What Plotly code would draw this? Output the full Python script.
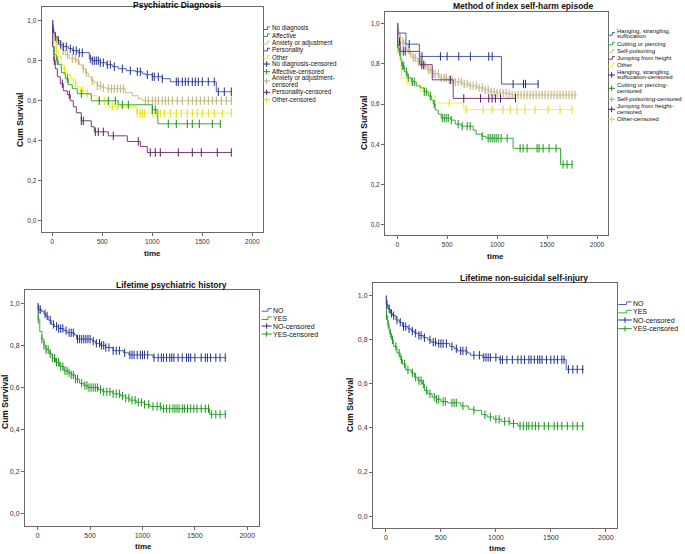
import bisect
import plotly.graph_objects as go

W, H = 685, 554
FONT = "Liberation Sans"

# ---------------- DATA ----------------
# Panel 1: Psychiatric Diagnosis
p1_nodiag_t = [0, 3, 15, 30, 55, 80, 110, 160, 200, 260, 370, 400, 480, 540, 600, 660, 740, 830, 900, 930, 1000, 1100, 1180, 1640]
p1_nodiag_s = [1.0, 0.96, 0.94, 0.92, 0.90, 0.88, 0.87, 0.86, 0.85, 0.84, 0.81, 0.80, 0.79, 0.78, 0.77, 0.76, 0.75, 0.745, 0.735, 0.73, 0.72, 0.71, 0.695, 0.645]
p1_nodiag_end = 1790
p1_nodiag_c = [8, 30, 60, 85, 110, 140, 180, 210, 240, 270, 300, 380, 400, 420, 440, 460, 480, 510, 550, 580, 620, 700, 780, 850, 880, 950, 1000, 1020, 1060, 1100, 1240, 1260, 1300, 1330, 1360, 1400, 1430, 1460, 1500, 1560, 1620, 1660, 1720, 1790]

p1_aff_t = [0, 5, 20, 40, 60, 90, 130, 160, 200, 250, 390, 660, 1000, 1055]
p1_aff_s = [1.0, 0.87, 0.83, 0.80, 0.78, 0.74, 0.71, 0.68, 0.66, 0.635, 0.60, 0.58, 0.555, 0.485]
p1_aff_end = 1680
p1_aff_c = [50, 150, 290, 470, 560, 630, 700, 760, 1000, 1030, 1160, 1240, 1350, 1400, 1470, 1600, 1680]

p1_anx_t = [0, 5, 20, 40, 70, 100, 130, 170, 240, 270, 300, 330, 360, 390, 420, 450, 500, 540, 730, 800, 860, 900]
p1_anx_s = [1.0, 0.95, 0.92, 0.89, 0.87, 0.85, 0.83, 0.81, 0.80, 0.78, 0.76, 0.74, 0.72, 0.70, 0.69, 0.675, 0.665, 0.66, 0.64, 0.625, 0.61, 0.60]
p1_anx_end = 1790
p1_anx_c = [40, 110, 150, 200, 230, 260, 310, 340, 400, 450, 480, 510, 560, 590, 620, 650, 680, 710, 930, 960, 1000, 1030, 1060, 1100, 1130, 1160, 1200, 1250, 1300, 1360, 1400, 1440, 1480, 1520, 1560, 1600, 1640, 1690, 1740, 1790]

p1_pers_t = [0, 3, 15, 30, 50, 80, 110, 150, 180, 210, 240, 290, 390, 420, 560, 750, 880, 950]
p1_pers_s = [1.0, 0.87, 0.80, 0.76, 0.72, 0.685, 0.65, 0.63, 0.60, 0.57, 0.54, 0.50, 0.47, 0.445, 0.425, 0.397, 0.372, 0.342]
p1_pers_end = 1790
p1_pers_c = [20, 100, 170, 290, 310, 430, 460, 510, 610, 860, 980, 1030, 1080, 1260, 1400, 1490, 1650, 1790]

p1_oth_t = [0, 5, 20, 40, 60, 90, 120, 150, 180, 210, 250, 280, 330, 380, 450, 560, 840]
p1_oth_s = [1.0, 0.93, 0.89, 0.85, 0.82, 0.78, 0.75, 0.73, 0.71, 0.69, 0.67, 0.65, 0.635, 0.625, 0.60, 0.572, 0.538]
p1_oth_end = 1790
p1_oth_c = [40, 120, 230, 300, 350, 470, 520, 600, 650, 850, 880, 900, 920, 1000, 1040, 1080, 1120, 1180, 1240, 1290, 1350, 1400, 1450, 1500, 1560, 1620, 1700, 1790]

# Panel 2: Method of index self-harm episode
p2_hang_t = [0, 5, 87, 221, 1043]
p2_hang_s = [1.0, 0.952, 0.897, 0.836, 0.699]
p2_hang_end = 1418
p2_hang_c = [120, 248, 432, 499, 616, 732, 916, 950, 1160, 1264, 1284, 1410]

p2_cut_t = [0, 3, 15, 30, 45, 70, 100, 140, 190, 230, 270, 310, 340, 360, 380, 410, 440, 540, 580, 640, 760, 790, 850, 890, 1160, 1635]
p2_cut_s = [1.0, 0.90, 0.86, 0.82, 0.79, 0.76, 0.73, 0.71, 0.69, 0.68, 0.66, 0.64, 0.62, 0.60, 0.57, 0.55, 0.53, 0.52, 0.50, 0.49, 0.47, 0.45, 0.44, 0.43, 0.38, 0.30]
p2_cut_end = 1750
p2_cut_c = [3, 25, 50, 65, 90, 110, 150, 170, 270, 290, 330, 370, 450, 470, 490, 510, 540, 610, 650, 700, 730, 850, 910, 930, 950, 970, 990, 1010, 1040, 1100, 1230, 1260, 1300, 1400, 1420, 1460, 1520, 1590, 1660, 1700, 1750]

p2_pois_t = [0, 3, 20, 50, 90, 120, 150, 200, 250, 300, 350, 420, 500, 580, 650, 720, 800, 870, 930, 1000, 1100, 1150]
p2_pois_s = [1.0, 0.96, 0.93, 0.90, 0.87, 0.85, 0.83, 0.81, 0.79, 0.77, 0.75, 0.73, 0.72, 0.71, 0.70, 0.69, 0.68, 0.67, 0.66, 0.655, 0.65, 0.645]
p2_pois_end = 1800
p2_pois_c = [10, 30, 60, 80, 110, 130, 160, 180, 210, 230, 260, 280, 310, 330, 360, 380, 410, 440, 470, 490, 520, 550, 580, 610, 640, 670, 700, 730, 760, 790, 820, 850, 880, 910, 940, 970, 1000, 1030, 1060, 1090, 1120, 1150, 1180, 1210, 1240, 1270, 1300, 1330, 1360, 1390, 1420, 1450, 1480, 1510, 1540, 1570, 1600, 1630, 1660, 1690, 1720, 1750, 1780]

p2_jump_t = [0, 5, 30, 225, 350, 560]
p2_jump_s = [1.0, 0.91, 0.861, 0.795, 0.72, 0.628]
p2_jump_end = 1184
p2_jump_c = [22, 60, 80, 245, 265, 532, 666, 833, 916, 950, 983, 1034, 1184]

p2_oth_t = [0, 3, 40, 90, 230, 330, 380, 665]
p2_oth_s = [1.0, 0.87, 0.73, 0.70, 0.665, 0.64, 0.605, 0.572]
p2_oth_end = 1750
p2_oth_c = [5, 520, 690, 860, 950, 1060, 1130, 1200, 1280, 1380, 1510, 1630, 1750]

# Panel 3: Lifetime psychiatric history
p3_no_t = [0, 5, 40, 60, 80, 100, 130, 160, 200, 250, 280, 350, 370, 520, 550, 600, 650, 720, 820, 870, 1100]
p3_no_s = [1.0, 0.97, 0.96, 0.95, 0.94, 0.92, 0.90, 0.89, 0.88, 0.87, 0.86, 0.85, 0.83, 0.82, 0.81, 0.80, 0.79, 0.775, 0.765, 0.755, 0.742]
p3_no_end = 1800
p3_no_c = [10, 25, 70, 90, 120, 150, 180, 200, 220, 240, 270, 300, 320, 340, 380, 400, 420, 440, 460, 480, 500, 530, 560, 590, 610, 630, 650, 680, 720, 750, 780, 830, 880, 900, 920, 950, 980, 1000, 1020, 1050, 1110, 1150, 1180, 1200, 1230, 1260, 1280, 1300, 1340, 1380, 1420, 1440, 1460, 1500, 1560, 1600, 1620, 1650, 1700, 1740, 1790]

p3_yes_t = [0, 2, 5, 20, 40, 60, 80, 110, 140, 170, 210, 250, 290, 320, 360, 400, 440, 480, 580, 620, 720, 790, 840, 880, 940, 1020, 1070, 1180, 1640]
p3_yes_s = [1.0, 0.97, 0.924, 0.866, 0.83, 0.80, 0.78, 0.76, 0.74, 0.72, 0.70, 0.68, 0.67, 0.66, 0.64, 0.62, 0.61, 0.60, 0.59, 0.58, 0.57, 0.56, 0.55, 0.54, 0.53, 0.52, 0.51, 0.50, 0.473]
p3_yes_end = 1800
p3_yes_c = [5, 40, 60, 80, 100, 120, 140, 160, 180, 200, 220, 240, 260, 280, 300, 320, 340, 360, 380, 420, 450, 470, 490, 510, 530, 550, 570, 600, 630, 660, 690, 720, 750, 780, 810, 840, 870, 900, 930, 960, 990, 1020, 1060, 1100, 1140, 1170, 1200, 1230, 1260, 1290, 1310, 1330, 1350, 1380, 1400, 1430, 1460, 1490, 1520, 1560, 1600, 1630, 1660, 1700, 1740, 1790]

# Panel 4: Lifetime non-suicidal self-injury
p4_no_t = [0, 5, 20, 40, 60, 90, 120, 150, 200, 230, 260, 300, 340, 380, 410, 460, 580, 620, 650, 740, 770, 880, 1030, 1640]
p4_no_s = [1.0, 0.96, 0.94, 0.92, 0.91, 0.89, 0.88, 0.86, 0.85, 0.84, 0.83, 0.82, 0.81, 0.80, 0.79, 0.783, 0.77, 0.76, 0.75, 0.74, 0.73, 0.72, 0.71, 0.666]
p4_no_end = 1800
p4_no_c = [10, 30, 50, 70, 100, 130, 160, 180, 210, 240, 270, 300, 320, 350, 400, 430, 450, 480, 500, 520, 550, 600, 640, 680, 700, 730, 800, 850, 890, 910, 930, 950, 1000, 1040, 1060, 1100, 1150, 1200, 1230, 1260, 1300, 1320, 1350, 1380, 1400, 1420, 1460, 1500, 1530, 1560, 1600, 1620, 1660, 1700, 1740, 1790]

p4_yes_t = [0, 1, 5, 15, 30, 50, 70, 100, 130, 150, 180, 230, 260, 290, 330, 350, 380, 420, 460, 500, 560, 680, 750, 800, 870, 920, 980, 1050, 1130, 1200]
p4_yes_s = [1.0, 0.96, 0.91, 0.87, 0.83, 0.80, 0.77, 0.74, 0.71, 0.69, 0.663, 0.65, 0.63, 0.615, 0.60, 0.57, 0.555, 0.54, 0.53, 0.52, 0.514, 0.50, 0.485, 0.48, 0.46, 0.45, 0.44, 0.43, 0.42, 0.409]
p4_yes_end = 1800
p4_yes_c = [5, 20, 40, 60, 90, 120, 140, 170, 200, 240, 270, 300, 320, 340, 370, 400, 440, 460, 480, 520, 540, 600, 620, 640, 700, 800, 900, 950, 1000, 1030, 1080, 1120, 1160, 1220, 1250, 1280, 1300, 1330, 1360, 1390, 1440, 1480, 1530, 1560, 1600, 1650, 1700, 1740, 1790]

x_tick_vals = [0, 500, 1000, 1500, 2000]
x_tick_text = ["0", "500", "1000", "1500", "2000"]
y_tick_vals = [0.0, 0.2, 0.4, 0.6, 0.8, 1.0]
y_tick_text = ["0,0", "0,2", "0,4", "0,6", "0,8", "1,0"]

titles = ["Psychiatric Diagnosis", "Method of index self-harm episode",
          "Lifetime psychiatric history", "Lifetime non-suicidal self-injury"]

# ---------------- STYLE ----------------
BLUE = ("#4b60b6", "#1f2e8c")
GREEN = ("#37ad37", "#1c931c")
TAN = ("#cdc28f", "#b9ab72")
PURPLE = ("#7b3a7e", "#5c1d60")
YELLOW = ("#f2f22a", "#e0e000")

def P(px, py):
    return px / W, 1 - py / H

# panel geometry in pixels: frame left,right,top,bottom ; axis ranges
panels = [
    dict(fx=(41.7, 263.0), fy=(7.0, 232.0), xr=(-106, 2107), yr=(-0.055, 1.068)),
    dict(fx=(385.0, 608.0), fy=(11.7, 235.0), xr=(-123, 2110), yr=(-0.050, 1.058)),
    dict(fx=(25.0, 259.0), fy=(290.0, 526.0), xr=(-121, 2112), yr=(-0.057, 1.063)),
    dict(fx=(373.0, 617.0), fy=(283.0, 528.0), xr=(-118, 2102), yr=(-0.054, 1.058)),
]

fig = go.Figure()

def step_val(ts, ss, t):
    i = bisect.bisect_right(ts, t) - 1
    return ss[max(i, 0)]

def add_curve(k, ts, ss, end, cens, col, name):
    ax = "" if k == 1 else str(k)
    fig.add_trace(go.Scatter(
        x=list(ts) + [end], y=list(ss) + [ss[-1]], mode="lines",
        line=dict(color=col[0], width=1, shape="hv"),
        xaxis="x" + ax, yaxis="y" + ax, name=name, showlegend=False, hoverinfo="skip"))
    fig.add_trace(go.Scatter(
        x=cens, y=[step_val(ts, ss, c) for c in cens], mode="markers",
        marker=dict(symbol="line-ns-open", size=6, color=col[1],
                    line=dict(color=col[1], width=1)),
        xaxis="x" + ax, yaxis="y" + ax, name=name + "-censored", showlegend=False, hoverinfo="skip"))

add_curve(1, p1_anx_t, p1_anx_s, p1_anx_end, p1_anx_c, TAN, "Anxiety or adjustment")
add_curve(1, p1_oth_t, p1_oth_s, p1_oth_end, p1_oth_c, YELLOW, "Other")
add_curve(1, p1_aff_t, p1_aff_s, p1_aff_end, p1_aff_c, GREEN, "Affective")
add_curve(1, p1_pers_t, p1_pers_s, p1_pers_end, p1_pers_c, PURPLE, "Personality")
add_curve(1, p1_nodiag_t, p1_nodiag_s, p1_nodiag_end, p1_nodiag_c, BLUE, "No diagnosis")

add_curve(2, p2_oth_t, p2_oth_s, p2_oth_end, p2_oth_c, YELLOW, "Other")
add_curve(2, p2_cut_t, p2_cut_s, p2_cut_end, p2_cut_c, GREEN, "Cutting or piercing")
add_curve(2, p2_pois_t, p2_pois_s, p2_pois_end, p2_pois_c, TAN, "Self-poisoning")
add_curve(2, p2_jump_t, p2_jump_s, p2_jump_end, p2_jump_c, PURPLE, "Jumping from height")
add_curve(2, p2_hang_t, p2_hang_s, p2_hang_end, p2_hang_c, BLUE, "Hanging, strangling, suffocation")

add_curve(3, p3_yes_t, p3_yes_s, p3_yes_end, p3_yes_c, GREEN, "YES")
add_curve(3, p3_no_t, p3_no_s, p3_no_end, p3_no_c, BLUE, "NO")

add_curve(4, p4_yes_t, p4_yes_s, p4_yes_end, p4_yes_c, GREEN, "YES")
add_curve(4, p4_no_t, p4_no_s, p4_no_end, p4_no_c, BLUE, "NO")

layout = dict(
    width=W, height=H, margin=dict(l=0, r=0, t=0, b=0),
    paper_bgcolor="white", plot_bgcolor="white", showlegend=False,
    font=dict(family=FONT, color="#222"),
)
for i, p in enumerate(panels, start=1):
    ax = "" if i == 1 else str(i)
    x0, y0 = P(p["fx"][0], p["fy"][1])
    x1, y1 = P(p["fx"][1], p["fy"][0])
    tsize = 6.5 if i <= 2 else 7
    common = dict(showline=True, mirror=True, linecolor="#6a6a6a", linewidth=1,
                  showgrid=False, zeroline=False, ticks="outside", ticklen=3,
                  tickcolor="#6a6a6a", tickfont=dict(family=FONT, size=tsize, color="#333"),
                  fixedrange=True)
    layout["xaxis" + ax] = dict(domain=[x0, x1], range=list(p["xr"]), anchor="y" + ax,
                               tickvals=x_tick_vals, ticktext=x_tick_text, **common)
    layout["yaxis" + ax] = dict(domain=[y0, y1], range=list(p["yr"]), anchor="x" + ax,
                               tickvals=y_tick_vals, ticktext=y_tick_text, **common)
fig.update_layout(**layout)

ann = []
shapes = []

def text(px, py, s, size, bold=False, xanchor="center", angle=0):
    x, y = P(px, py)
    ann.append(dict(x=x, y=y, xref="paper", yref="paper", text=("<b>%s</b>" % s) if bold else s,
                    showarrow=False, xanchor=xanchor, yanchor="middle", textangle=angle,
                    font=dict(family=FONT, size=size, color="#111"), borderpad=0))

# titles
text(177.5, 5.0, titles[0], 8.5, bold=True)
text(523.5, 6.5, titles[1], 8.5, bold=True)
text(171.0, 285.0, titles[2], 8.5, bold=True)
text(524.0, 277.5, titles[3], 8.5, bold=True)
# axis titles
for (px, py) in [(152, 253), (495, 256), (143, 546), (497, 548.5)]:
    text(px, py, "time", 8, bold=True)
for (px, py) in [(20, 120), (364, 123), (5, 402), (350, 405)]:
    text(px, py, "Cum Survival", 8.5, bold=True, angle=-90)

def icon_step(x0, x1, y, col):
    xm = x0 + (x1 - x0) * 0.62
    a = P(x0, y + 1.2); b = P(xm, y + 1.2); c = P(xm, y - 1.4); d = P(x1, y - 1.4)
    shapes.append(dict(type="path", xref="paper", yref="paper",
                       path="M %f,%f L %f,%f L %f,%f L %f,%f" % (a + b + c + d),
                       line=dict(color=col, width=1)))

def icon_cens(x0, x1, y, col):
    xm = (x0 + x1) / 2
    a = P(x0, y); b = P(x1, y)
    shapes.append(dict(type="line", xref="paper", yref="paper", x0=a[0], y0=a[1], x1=b[0], y1=b[1],
                       line=dict(color=col, width=1)))
    a = P(xm, y - 2.8); b = P(xm, y + 2.8)
    shapes.append(dict(type="line", xref="paper", yref="paper", x0=a[0], y0=a[1], x1=b[0], y1=b[1],
                       line=dict(color=col, width=1)))

def legend(ix0, ix1, tx, items, size):
    for kind, col, iy, lines in items:
        if kind == "s":
            icon_step(ix0, ix1, iy, col[0])
        else:
            icon_cens(ix0, ix1, iy, col[1])
        for s, ly in lines:
            text(tx, ly, s, size, xanchor="left")

legend(263.3, 270.0, 270.7, [
    ("s", BLUE, 28.3, [("No diagnosis", 28.3)]),
    ("s", GREEN, 35.3, [("Affective", 35.3)]),
    ("s", TAN, 42.7, [("Anxiety or adjustment", 42.7)]),
    ("s", PURPLE, 49.7, [("Personality", 49.7)]),
    ("s", YELLOW, 57.0, [("Other", 57.0)]),
    ("c", BLUE, 64.0, [("No diagnosis-censored", 64.0)]),
    ("c", GREEN, 71.7, [("Affective-censored", 71.7)]),
    ("c", TAN, 81.0, [("Anxiety or adjustment-", 77.7), ("censored", 84.7)]),
    ("c", PURPLE, 92.3, [("Personality-censored", 92.3)]),
    ("c", YELLOW, 99.7, [("Other-censored", 99.7)]),
], 6.3)

legend(608.3, 615.0, 615.7, [
    ("s", BLUE, 34.0, [("Hanging, strangling,", 31.0), ("suffocation", 35.8)]),
    ("s", GREEN, 43.7, [("Cutting or piercing", 43.7)]),
    ("s", TAN, 51.0, [("Self-poisoning", 51.0)]),
    ("s", PURPLE, 58.0, [("Jumping from height", 58.0)]),
    ("s", YELLOW, 65.0, [("Other", 65.0)]),
    ("c", BLUE, 75.0, [("Hanging, strangling,", 72.3), ("suffocation-censored", 77.3)]),
    ("c", GREEN, 88.3, [("Cutting or piercing-", 85.3), ("censored", 91.3)]),
    ("c", TAN, 99.3, [("Self-poisoning-censored", 99.3)]),
    ("c", PURPLE, 109.3, [("Jumping from height-", 106.3), ("censored", 112.3)]),
    ("c", YELLOW, 119.3, [("Other-censored", 119.3)]),
], 6.0)

legend(261.7, 271.7, 272.3, [
    ("s", BLUE, 310.0, [("NO", 310.0)]),
    ("s", GREEN, 318.3, [("YES", 318.3)]),
    ("c", BLUE, 326.0, [("NO-censored", 326.0)]),
    ("c", GREEN, 334.0, [("YES-censored", 334.0)]),
], 7)

legend(618.3, 631.7, 632.3, [
    ("s", BLUE, 303.3, [("NO", 303.3)]),
    ("s", GREEN, 311.7, [("YES", 311.7)]),
    ("c", BLUE, 320.0, [("NO-censored", 320.0)]),
    ("c", GREEN, 328.7, [("YES-censored", 328.7)]),
], 7)

fig.update_layout(annotations=ann, shapes=shapes)
fig.write_html("out.html")
